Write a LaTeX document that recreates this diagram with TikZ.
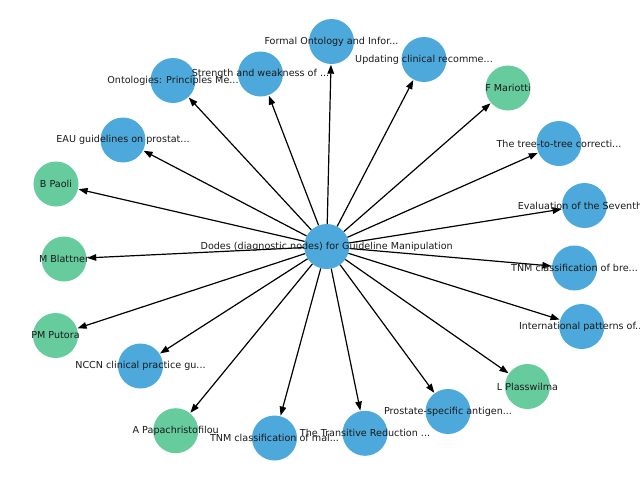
\documentclass[tikz,border=0pt]{standalone}
\usepackage{fontspec}
\setmainfont{DejaVu Sans}
\usetikzlibrary{arrows.meta}
\definecolor{nblue}{RGB}{77,169,219}
\definecolor{ngreen}{RGB}{102,204,158}
\tikzset{
  bnode/.style={circle,fill=nblue,draw=none,minimum size=45pt,inner sep=0pt},
  gnode/.style={circle,fill=ngreen,draw=none,minimum size=45pt,inner sep=0pt},
  lbl/.style={font=\fontsize{9.6}{11}\selectfont,text=black!90,inner sep=0pt},
  edge/.style={draw=black,line width=1.2pt,-{Triangle[length=9pt,width=6.5pt]},shorten >=0.5pt}
}
\begin{document}
\begin{tikzpicture}[x=1pt,y=-1pt]
\useasboundingbox (0,0) rectangle (640,480);
\node[bnode] (c) at (326.7,246.5) {};
\node[bnode] (n1) at (331.5,41.5) {};
\node[bnode] (n2) at (260.5,74) {};
\node[bnode] (n3) at (173,80.5) {};
\node[bnode] (n4) at (424,59.5) {};
\node[gnode] (n5) at (508,88) {};
\node[bnode] (n6) at (123,140) {};
\node[bnode] (n7) at (559,143.5) {};
\node[gnode] (n8) at (56,184) {};
\node[bnode] (n9) at (584.5,205.5) {};
\node[gnode] (n10) at (64,259) {};
\node[bnode] (n11) at (574.5,268) {};
\node[gnode] (n12) at (55.5,335.5) {};
\node[bnode] (n13) at (581.7,326.5) {};
\node[bnode] (n14) at (140.5,366) {};
\node[gnode] (n15) at (527.5,386.5) {};
\node[bnode] (n16) at (448,411.5) {};
\node[gnode] (n17) at (175.7,430.7) {};
\node[bnode] (n18) at (274.5,438) {};
\node[bnode] (n19) at (365,433.3) {};
\foreach \i in {1,...,19} {\draw[edge] (c) -- (n\i);}
\node[lbl] at (c) {Dodes (diagnostic nodes) for Guideline Manipulation};
\node[lbl] at (n1) {Formal Ontology and Infor...};
\node[lbl] at (n2) {Strength and weakness of ...};
\node[lbl] at (n3) {Ontologies: Principles Me...};
\node[lbl] at (n4) {Updating clinical recomme...};
\node[lbl] at (n5) {F Mariotti};
\node[lbl] at (n6) {EAU guidelines on prostat...};
\node[lbl] at (n7) {The tree-to-tree correcti...};
\node[lbl] at (n8) {B Paoli};
\node[lbl] at (n9) {Evaluation of the Seventh...};
\node[lbl] at (n10) {M Blattner};
\node[lbl] at (n11) {TNM classification of bre...};
\node[lbl] at (n12) {PM Putora};
\node[lbl] at (n13) {International patterns of...};
\node[lbl] at (n14) {NCCN clinical practice gu...};
\node[lbl] at (n15) {L Plasswilma};
\node[lbl] at (n16) {Prostate-specific antigen...};
\node[lbl] at (n17) {A Papachristofilou};
\node[lbl] at (n18) {TNM classification of mal...};
\node[lbl] at (n19) {The Transitive Reduction ...};
\end{tikzpicture}
\end{document}
